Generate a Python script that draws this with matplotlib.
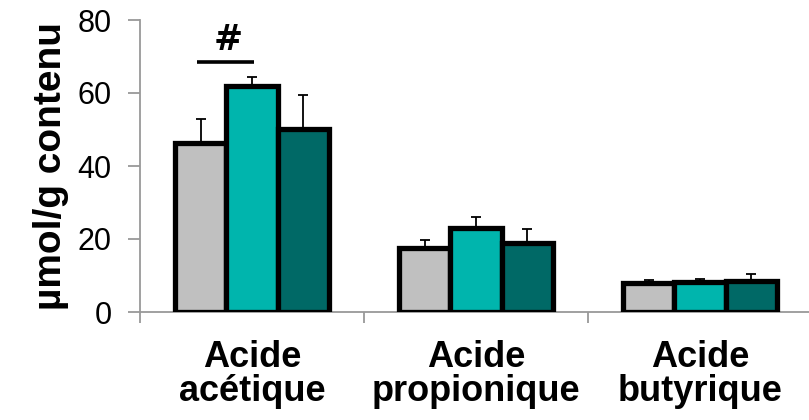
# ================================================================
# 0. Section: IMPORTS
# ================================================================
import numpy as np

from matplotlib import pyplot as plt



# ================================================================
# 1. Section: INPUTS
# ================================================================
CATEGORIES: list[str] = ["Acide\nacétique", "Acide\npropionique", "Acide\nbutyrique"]
GROUP_1: list[float] = [46.3, 17.4, 7.9]
GROUP_2: list[float] = [62.0, 23.0, 8.2]
GROUP_3: list[float] = [50.0, 18.8, 8.5]
ERR_1: list[float] = [6.6, 2.3, 0.8]
ERR_2: list[float] = [2.4, 3.0, 0.8]
ERR_3: list[float] = [9.5, 3.9, 1.8]
COLORS: list[str] = ["#C0C0C0", "#00B5AD", "#006966"]
Y_LABEL: str = "µmol/g contenu"
SIGN_LABEL: str = "#"
SIGN_Y: float = 68.5
LIMIT: tuple = (0, 80)



# ================================================================
# 2. Section: FUNCTIONS
# ================================================================
def draw_chart():
    plt.rcParams["font.family"] = ["Liberation Sans", "DejaVu Sans"]

    fig = plt.figure(figsize=(8.09, 4.20), dpi=100)
    ax = fig.add_axes([140 / 809, 108 / 420, 672 / 809, 292 / 420])

    x = np.arange(len(CATEGORIES))
    width = 0.228
    series = [(GROUP_1, ERR_1), (GROUP_2, ERR_2), (GROUP_3, ERR_3)]

    for i, (vals, errs) in enumerate(series):
        pos = x + (i - 1) * width
        # error bars first so the bar covers the lower half
        ax.errorbar(pos, vals, yerr=[np.zeros(len(errs)), errs], fmt="none",
                    ecolor="black", elinewidth=1.3, capsize=3.8, capthick=1.3,
                    zorder=2)
        ax.bar(pos, vals, width, color=COLORS[i], edgecolor="black",
               linewidth=3.8, zorder=3)

    # significance marker between first two bars of the first group
    ax.plot([-0.245, 0.01], [SIGN_Y, SIGN_Y], color="black", lw=2.6,
            solid_capstyle="butt", zorder=4)
    ax.text(-0.107, SIGN_Y + 1.3, SIGN_LABEL, ha="center", va="bottom",
            fontsize=25, fontweight="bold", family="DejaVu Sans")

    # axes styling
    ax.set_xlim(-0.5, len(CATEGORIES) - 0.5)
    ax.set_ylim(*LIMIT)
    ax.set_yticks(np.arange(LIMIT[0], LIMIT[1] + 1, 20))
    ax.set_xticks(np.arange(-0.5, len(CATEGORIES)), labels=[])
    ax.set_xticks(x, labels=CATEGORIES, minor=True)
    ax.tick_params(axis="x", which="minor", length=0, pad=20, labelsize=26)
    ax.tick_params(axis="x", which="major", length=8, width=1.3,
                   color="#999999", direction="out")
    ax.tick_params(axis="y", length=8.5, width=1.3, color="#999999",
                   labelsize=22, pad=12)
    for lab in ax.get_xticklabels(minor=True):
        lab.set_fontweight("bold")
        lab.set_linespacing(0.98)

    for side in ["top", "right"]:
        ax.spines[side].set_visible(False)
    for side in ["left", "bottom"]:
        ax.spines[side].set_color("#999999")
        ax.spines[side].set_linewidth(1.3)

    ax.set_ylabel(Y_LABEL, fontsize=28, fontweight="bold", labelpad=6)

    fig.savefig("out.png", dpi=100)



# ================================================================
# 3. Section: MAIN
# ================================================================
if __name__ == '__main__':
    draw_chart()
